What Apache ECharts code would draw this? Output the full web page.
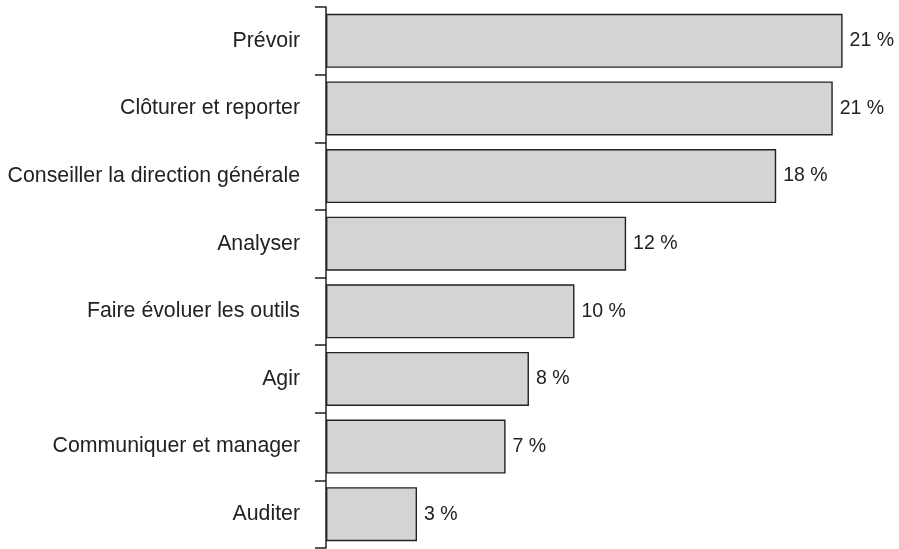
<!DOCTYPE html>
<html>
<head>
<meta charset="utf-8">
<script src="https://cdn.jsdelivr.net/npm/echarts@6/dist/echarts.min.js"></script>
<style>
  html, body { margin: 0; padding: 0; background: #fff; }
  #main { width: 899px; height: 549px; }
</style>
</head>
<body>
<div id="main"></div>
<script>
    'use strict';

    // categories, top to bottom
    var categories = [
        'Prévoir',
        'Clôturer et reporter',
        'Conseiller la direction générale',
        'Analyser',
        'Faire évoluer les outils',
        'Agir',
        'Communiquer et manager',
        'Auditer'
    ];

    // bar lengths (%)
    var values = [21.0, 20.6, 18.3, 12.2, 10.1, 8.25, 7.3, 3.7];

    // labels printed at the bar ends
    var valueLabels = ['21 %', '21 %', '18 %', '12 %', '10 %', '8 %', '7 %', '3 %'];

    var chart = echarts.init(document.getElementById('main'));

    var option = {
        animation: false,
        backgroundColor: '#ffffff',
        grid: {
            left: 326,
            right: 31.8,
            top: 7,
            bottom: 1,
            containLabel: false
        },
        xAxis: {
            type: 'value',
            min: 0,
            max: 22,
            show: false
        },
        yAxis: {
            type: 'category',
            inverse: true,
            data: categories,
            axisLine: {
                show: true,
                lineStyle: { color: '#222', width: 1.5 }
            },
            axisTick: {
                show: true,
                length: 11,
                lineStyle: { color: '#222', width: 1.5 }
            },
            axisLabel: {
                margin: 26,
                color: '#222',
                fontFamily: 'Liberation Sans, Arial, sans-serif',
                fontSize: 21.3
            },
            splitLine: { show: false }
        },
        series: [{
            type: 'bar',
            data: values,
            barCategoryGap: '20%',
            itemStyle: {
                color: '#d4d4d4',
                borderColor: '#222',
                borderWidth: 1.4
            },
            label: {
                show: true,
                position: 'right',
                distance: 7,
                color: '#222',
                fontFamily: 'Liberation Sans, Arial, sans-serif',
                fontSize: 19.5,
                formatter: function (p) {
                    return valueLabels[p.dataIndex];
                }
            }
        }]
    };

    chart.setOption(option);
</script>
</body>
</html>
